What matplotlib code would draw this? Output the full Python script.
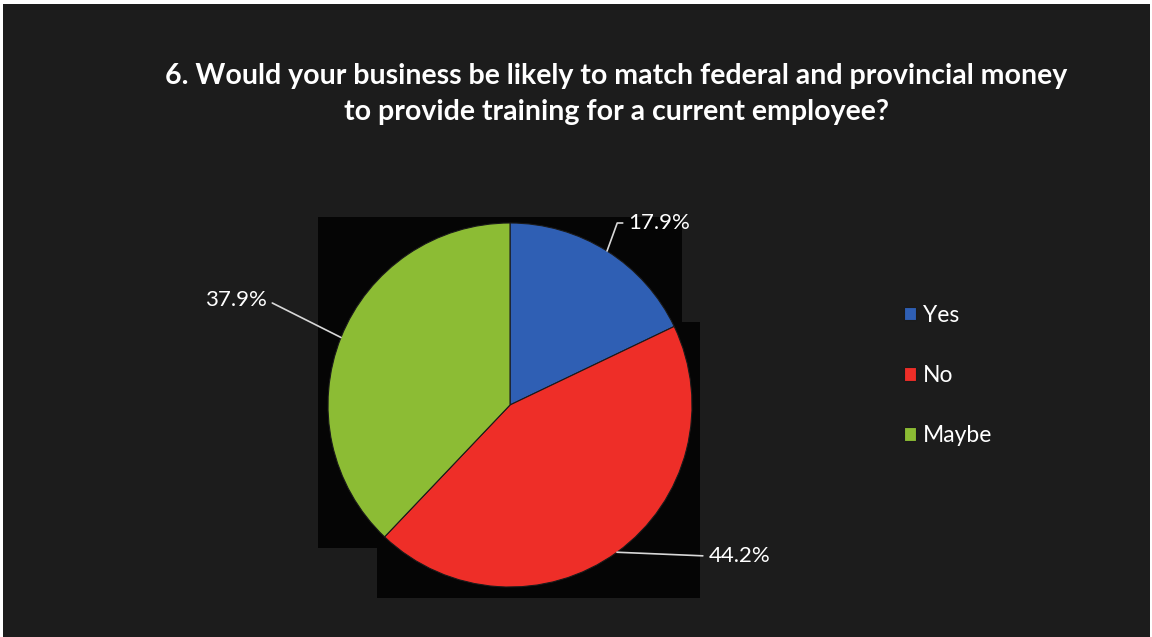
import numpy as np
import matplotlib
matplotlib.use("Agg")
import matplotlib.pyplot as plt
from matplotlib.patches import Rectangle

categories = ["Yes", "No", "Maybe"]
values = [17.9, 44.2, 37.9]
labels = ["17.9%", "44.2%", "37.9%"]
colors = ["#2f5fb4", "#ee2e28", "#8cbc34"]
title = ("6. Would your business be likely to match federal and provincial money\n"
         "to provide training for a current employee?")

plt.rcParams['font.family'] = ['Lato', 'DejaVu Sans']

W, H = 1152, 637
fig = plt.figure(figsize=(W / 100, H / 100), dpi=100, facecolor="white")

# background layer
bg = fig.add_axes([0, 0, 1, 1], zorder=-5)
bg.set_xlim(0, W)
bg.set_ylim(H, 0)
bg.axis("off")
bg.add_patch(Rectangle((3, 4), W - 5, H - 4, facecolor="#1c1c1c", edgecolor="none"))
bg.add_patch(Rectangle((318, 217), 682 - 318, 548 - 217, facecolor="#050505", edgecolor="none"))
bg.add_patch(Rectangle((377, 322), 700 - 377, 598 - 322, facecolor="#050505", edgecolor="none"))

fig.text(616 / W, 1 - 94 / H, title, ha="center", va="center", color="white",
         fontsize=20.5, fontweight="bold", linespacing=1.5)

cx, cy, r = 510, 405, 182
ax = fig.add_axes([(cx - r) / W, (H - cy - r) / H, 2 * r / W, 2 * r / H], zorder=1)
ax.set_facecolor("none")
wedges, _ = ax.pie(values, colors=colors, startangle=90, counterclock=False,
                   wedgeprops=dict(edgecolor="#1a1a1a", linewidth=0.8))
ax.set_xlim(-1, 1)
ax.set_ylim(-1, 1)
ax.set_aspect("equal")
ax.axis("off")

# label placements (data units relative to pie radius)
text_pos = {"Yes": (0.65, 1.0), "No": (1.09, -0.83), "Maybe": (-1.335, 0.575)}
halign = {"Yes": "left", "No": "left", "Maybe": "right"}
conn = {"Yes": "angle,angleA=0,angleB=70,rad=0", "No": "arc3,rad=0", "Maybe": "arc3,rad=0"}

for w, cat, lab in zip(wedges, categories, labels):
    mid = np.deg2rad((w.theta1 + w.theta2) / 2)
    edge = (np.cos(mid), np.sin(mid))
    ha = halign[cat]
    ax.annotate(lab, xy=edge, xytext=text_pos[cat], ha=ha, va="center",
                color="white", fontsize=16,
                arrowprops=dict(arrowstyle="-", color="#d8d8d8", lw=1.2,
                                shrinkA=2, shrinkB=0,
                                relpos=(0, 0.5) if ha == "left" else (1, 0.5),
                                connectionstyle=conn[cat]),
                annotation_clip=False)

leg = fig.legend(wedges, categories, loc="upper left",
                 bbox_to_anchor=(883 / W, 1 - 284 / H), frameon=False,
                 labelcolor="white", fontsize=16.5, handlelength=0.55,
                 handleheight=0.55, handletextpad=0.3, labelspacing=1.72)

fig.savefig("out.png", dpi=100, facecolor=fig.get_facecolor())
